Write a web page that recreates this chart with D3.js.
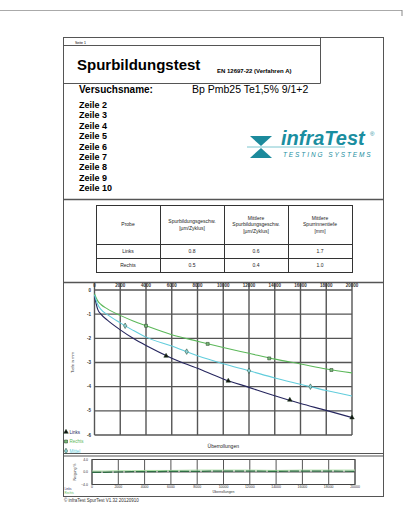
<!DOCTYPE html>
<html>
<head>
<meta charset="utf-8">
<script src="https://cdn.jsdelivr.net/npm/d3@7"></script>
<style>
body { margin: 0; background: #fff; }
svg { display: block; font-family: 'Liberation Sans', Arial, sans-serif; }
</style>
</head>
<body>
<div class="content"></div>
<script>
// report texts
var zeilen = ['Zeile 2', 'Zeile 3', 'Zeile 4', 'Zeile 5', 'Zeile 6', 'Zeile 7', 'Zeile 8', 'Zeile 9', 'Zeile 10']
var tableHead = [
    ['Probe'],
    ['Spurbildungsgeschw.', '[µm/Zyklus]'],
    ['Mittlere', 'Spurbildungsgeschw.', '[µm/Zyklus]'],
    ['Mittlere', 'Spurrinnentiefe', '[mm]']
]
var tableRows = [
    ['Links', '0.8', '0.6', '1.7'],
    ['Rechts', '0.5', '0.4', '1.0']
]

// rut depth curves (Überrollungen -> Tiefe in mm)
var overrolls = [0, 250, 500, 1000, 2000, 3000, 4000, 6000, 8000, 10000, 12000, 14000, 16000, 18000, 20000]
var depthLinks = [-0.25, -0.8, -1.0, -1.25, -1.65, -2.0, -2.3, -2.82, -3.24, -3.68, -4.03, -4.38, -4.7, -4.98, -5.28]
var depthRechts = [-0.15, -0.45, -0.6, -0.78, -1.05, -1.28, -1.48, -1.85, -2.12, -2.38, -2.62, -2.86, -3.06, -3.27, -3.43]
var depthMittel = [-0.2, -0.6, -0.8, -1.02, -1.36, -1.67, -1.95, -2.32, -2.72, -3.05, -3.34, -3.64, -3.9, -4.16, -4.39]

var marksLinksX = [5560, 10390, 15170, 20000]
var marksLinksY = [-2.73, -3.76, -4.55, -5.28]
var marksRechtsX = [4000, 8790, 13570, 18400]
var marksRechtsY = [-1.48, -2.23, -2.83, -3.31]
var marksMittelX = [2380, 7160, 12000, 16770]
var marksMittelY = [-1.48, -2.55, -3.34, -4.0]

var xTicks = [0, 2000, 4000, 6000, 8000, 10000, 12000, 14000, 16000, 18000, 20000]
var yTicks = [0, -1, -2, -3, -4, -5, -6]

// slope chart (Neigung)
var slopeX = [0, 1000, 2000, 3000, 4000, 6000, 8000, 10000, 12000, 14000, 16000, 18000, 20000]
var slopeLinks = [-0.1, -0.1, 0.0, 0.1, 0.1, 0.2, 0.2, 0.3, 0.3, 0.2, 0.3, 0.3, 0.2]
var slopeRechts = [0.3, 0.3, 0.4, 0.4, 0.5, 0.5, 0.6, 0.6, 0.6, 0.5, 0.6, 0.6, 0.6]
var slopeTicks = [4, 0, -4]

var colLinks = '#26265e'
var colRechts = '#5cb85a'
var colMittel = '#62cddc'

var svg = d3.select('.content').append('svg')
    .attr('width', 404)
    .attr('height', 523)

// page edge
svg.append('line').attr('x1', 0).attr('x2', 402).attr('y1', 10.5).attr('y2', 10.5)
    .style('stroke', '#aaa').style('stroke-width', 1)
svg.append('line').attr('x1', 402).attr('x2', 402).attr('y1', 10).attr('y2', 16)
    .style('stroke', '#888').style('stroke-width', 1)

// frame
var frame = svg.append('g').attr('class', 'frame')
    .style('stroke', '#555').style('fill', 'none')
frame.append('rect').attr('x', 63.5).attr('y', 37.5).attr('width', 320).attr('height', 459)
frame.append('line').attr('x1', 63.5).attr('x2', 320.5).attr('y1', 45.5).attr('y2', 45.5)
frame.append('line').attr('x1', 320.5).attr('x2', 320.5).attr('y1', 37.5).attr('y2', 83.5)
frame.append('line').attr('x1', 63.5).attr('x2', 320.5).attr('y1', 83.5).attr('y2', 83.5)
frame.append('line').attr('x1', 63.5).attr('x2', 383.5).attr('y1', 199.5).attr('y2', 199.5).style('stroke-width', 1.5)
frame.append('line').attr('x1', 63.5).attr('x2', 383.5).attr('y1', 282.5).attr('y2', 282.5).style('stroke-width', 1.5)
frame.append('line').attr('x1', 63.5).attr('x2', 383.5).attr('y1', 453.5).attr('y2', 453.5).style('stroke-width', 1.2)
frame.append('line').attr('x1', 63.5).attr('x2', 383.5).attr('y1', 456).attr('y2', 456).style('stroke-width', 1.2)

// header texts
svg.append('text').attr('x', 75).attr('y', 43.5).text('Seite 1')
    .style('font-size', '3.5px')
svg.append('text').attr('x', 77).attr('y', 70).text('Spurbildungstest')
    .style('font-size', '15px').style('font-weight', 'bold')
svg.append('text').attr('x', 217).attr('y', 72.5).text('EN 12697-22 (Verfahren A)')
    .style('font-size', '6px').style('font-weight', 'bold')
svg.append('text').attr('x', 79).attr('y', 93).text('Versuchsname:')
    .style('font-size', '10px').style('font-weight', 'bold')
svg.append('text').attr('x', 192).attr('y', 93).text('Bp Pmb25 Te1,5% 9/1+2')
    .style('font-size', '10.5px')

svg.append('g').selectAll('text')
    .data(zeilen)
    .enter().append('text')
    .attr('x', 79)
    .attr('y', function(d, i) { return 108 + i * 10.4 })
    .text(function(d) { return d })
    .style('font-size', '9px').style('font-weight', 'bold')

// logo
var logo = svg.append('g').attr('class', 'logo')
logo.append('line').attr('x1', 247).attr('x2', 345).attr('y1', 147).attr('y2', 147)
    .style('stroke', '#7cc6cf').style('stroke-width', 1)
logo.append('path').attr('d', 'M250,136 L272,136 L261,146 Z').style('fill', '#1c8a9c')
logo.append('path').attr('d', 'M261,148 L272,158 L250,158 Z').style('fill', '#1c8a9c')
logo.append('text').attr('x', 281).attr('y', 145).text('infraTest')
    .style('font-size', '20px').style('font-weight', 'bold').style('font-style', 'italic')
    .style('fill', '#1a8ea0')
logo.append('text').attr('x', 370).attr('y', 136).text('®')
    .style('font-size', '6px').style('fill', '#1a8ea0')
logo.append('text').attr('x', 283).attr('y', 157).text('TESTING SYSTEMS')
    .style('font-size', '6.5px').style('font-style', 'italic').style('letter-spacing', '1.9px')
    .style('fill', '#1a8ea0')

// results table
var colX = [96, 160, 224, 288, 352]
var rowY = [205, 244, 258, 272]
var table = svg.append('g').attr('class', 'table')
table.append('g').selectAll('line')
    .data(colX)
    .enter().append('line')
    .attr('x1', function(d) { return d + 0.5 }).attr('x2', function(d) { return d + 0.5 })
    .attr('y1', rowY[0]).attr('y2', rowY[3])
    .style('stroke', '#333')
table.append('g').selectAll('line')
    .data(rowY)
    .enter().append('line')
    .attr('x1', colX[0]).attr('x2', colX[4] + 1)
    .attr('y1', function(d) { return d + 0.5 }).attr('y2', function(d) { return d + 0.5 })
    .style('stroke', '#333')

tableHead.forEach(function(lines, c) {
    var cx = (colX[c] + colX[c + 1]) / 2
    var y0 = (rowY[0] + rowY[1]) / 2 - (lines.length - 1) * 3.3 + 1.8
    table.append('g').selectAll('text')
        .data(lines)
        .enter().append('text')
        .attr('x', cx)
        .attr('y', function(d, i) { return y0 + i * 6.6 })
        .attr('text-anchor', 'middle')
        .text(function(d) { return d })
        .style('font-size', '5px').style('fill', '#222')
})
tableRows.forEach(function(row, r) {
    table.append('g').selectAll('text')
        .data(row)
        .enter().append('text')
        .attr('x', function(d, c) { return (colX[c] + colX[c + 1]) / 2 })
        .attr('y', (rowY[r + 1] + rowY[r + 2]) / 2 + 1.8)
        .attr('text-anchor', 'middle')
        .text(function(d) { return d })
        .style('font-size', '5px').style('fill', '#222')
})

// rut depth chart
var x = d3.scaleLinear().domain([0, 20000]).range([94.5, 352])
var y = d3.scaleLinear().domain([0, -6]).range([290, 435])

var chart = svg.append('g').attr('class', 'chart')
chart.append('g').selectAll('line')
    .data(xTicks)
    .enter().append('line')
    .attr('x1', x).attr('x2', x)
    .attr('y1', 283).attr('y2', y(-6))
    .style('stroke', '#555').style('stroke-width', 1.4)
chart.append('g').selectAll('line')
    .data(yTicks)
    .enter().append('line')
    .attr('x1', x(0)).attr('x2', x(20000))
    .attr('y1', y).attr('y2', y)
    .style('stroke', '#555').style('stroke-width', 1.4)

chart.append('g').selectAll('text')
    .data(xTicks)
    .enter().append('text')
    .attr('x', x).attr('y', 286.5)
    .attr('text-anchor', 'middle')
    .text(d3.format('d'))
    .style('font-size', '4.5px').style('font-weight', 'bold').style('fill', '#333')
chart.append('g').selectAll('text')
    .data(yTicks)
    .enter().append('text')
    .attr('x', 91).attr('y', function(d) { return y(d) + 1.6 })
    .attr('text-anchor', 'end')
    .text(function(d) { return d })
    .style('font-size', '4.5px').style('font-weight', 'bold').style('fill', '#333')
chart.append('text')
    .attr('transform', 'translate(74,' + y(-3) + ') rotate(-90)')
    .attr('text-anchor', 'middle')
    .text('Tiefe in mm')
    .style('font-size', '4px').style('fill', '#333')
chart.append('text')
    .attr('x', (x(0) + x(20000)) / 2).attr('y', 448)
    .attr('text-anchor', 'middle')
    .text('Überrollungen')
    .style('font-size', '5px').style('fill', '#222')

var line = d3.line()
    .x(function(d) { return x(d[0]) })
    .y(function(d) { return y(d[1]) })
    .curve(d3.curveMonotoneX)

var series = [
    { name: 'Links', values: depthLinks, mx: marksLinksX, my: marksLinksY, color: colLinks, shape: d3.symbolTriangle, fill: '#111' },
    { name: 'Rechts', values: depthRechts, mx: marksRechtsX, my: marksRechtsY, color: colRechts, shape: d3.symbolSquare, fill: '#7ab87a' },
    { name: 'Mittel', values: depthMittel, mx: marksMittelX, my: marksMittelY, color: colMittel, shape: d3.symbolDiamond, fill: '#8fd3dc' }
]

series.forEach(function(s) {
    chart.append('path')
        .datum(overrolls.map(function(o, i) { return [o, s.values[i]] }))
        .attr('d', line)
        .style('fill', 'none')
        .style('stroke', s.color)
        .style('stroke-width', 1.1)
    chart.append('g').selectAll('path')
        .data(s.mx.map(function(o, i) { return [o, s.my[i]] }))
        .enter().append('path')
        .attr('d', d3.symbol().type(s.shape).size(9))
        .attr('transform', function(d) { return 'translate(' + x(d[0]) + ',' + y(d[1]) + ')' })
        .style('fill', s.fill)
        .style('stroke', '#1d3d1d')
        .style('stroke-width', 0.5)
})

// legend
var legend = svg.append('g').attr('class', 'legend')
series.forEach(function(s, i) {
    var ly = 432 + i * 9.5
    legend.append('path')
        .attr('d', d3.symbol().type(s.shape).size(9))
        .attr('transform', 'translate(66,' + ly + ')')
        .style('fill', s.fill).style('stroke', '#1d3d1d').style('stroke-width', 0.5)
    legend.append('text')
        .attr('x', 69.5).attr('y', ly + 1.8)
        .text(s.name)
        .style('font-size', '4.5px').style('fill', s.color)
})

// slope chart
var xs = d3.scaleLinear().domain([0, 20000]).range([92, 355])
var ys = d3.scaleLinear().domain([4, -4]).range([459.5, 484.5])
var slope = svg.append('g').attr('class', 'slope')
slope.append('rect')
    .attr('x', xs(0)).attr('y', ys(4))
    .attr('width', xs(20000) - xs(0)).attr('height', ys(-4) - ys(4))
    .style('fill', 'none').style('stroke', '#444')
slope.append('g').selectAll('line')
    .data(xTicks)
    .enter().append('line')
    .attr('x1', xs).attr('x2', xs)
    .attr('y1', ys(4)).attr('y2', ys(-4))
    .style('stroke', '#555').style('stroke-width', 1)
slope.append('line')
    .attr('x1', xs(0)).attr('x2', xs(20000))
    .attr('y1', ys(0)).attr('y2', ys(0))
    .style('stroke', '#555').style('stroke-width', 1)
slope.append('g').selectAll('text')
    .data(xTicks)
    .enter().append('text')
    .attr('x', xs).attr('y', 488)
    .attr('text-anchor', 'middle')
    .text(d3.format('d'))
    .style('font-size', '3.5px').style('fill', '#333')
slope.append('g').selectAll('text')
    .data(slopeTicks)
    .enter().append('text')
    .attr('x', 88).attr('y', function(d) { return ys(d) + 1.3 })
    .attr('text-anchor', 'end')
    .text(d3.format('.1f'))
    .style('font-size', '3.5px').style('fill', '#333')
slope.append('text')
    .attr('transform', 'translate(76,' + ys(0) + ') rotate(-90)')
    .attr('text-anchor', 'middle')
    .text('Neigung %')
    .style('font-size', '3.5px').style('fill', '#333')
slope.append('text')
    .attr('x', (xs(0) + xs(20000)) / 2).attr('y', 493)
    .attr('text-anchor', 'middle')
    .text('Überrollungen')
    .style('font-size', '3.5px').style('fill', '#333')

var sline = d3.line()
    .x(function(d) { return xs(d[0]) })
    .y(function(d) { return ys(d[1]) })
slope.append('path')
    .datum(slopeX.map(function(o, i) { return [o, slopeRechts[i]] }))
    .attr('d', sline)
    .style('fill', 'none').style('stroke', '#a6dca0').style('stroke-width', 1)
slope.append('path')
    .datum(slopeX.map(function(o, i) { return [o, slopeLinks[i]] }))
    .attr('d', sline)
    .style('fill', 'none').style('stroke', '#2f6d45').style('stroke-width', 1.2)
    .style('stroke-dasharray', '9,2')

slope.append('text').attr('x', 64.5).attr('y', 490).text('Links')
    .style('font-size', '3px').style('fill', colLinks)
slope.append('text').attr('x', 64.5).attr('y', 494).text('Rechts')
    .style('font-size', '3px').style('fill', colRechts)

// footer
svg.append('text').attr('x', 64).attr('y', 501.5)
    .text('© infraTest SpurTest V1.32 20120910')
    .style('font-size', '4.5px').style('fill', '#333')
</script>
</body>
</html>
